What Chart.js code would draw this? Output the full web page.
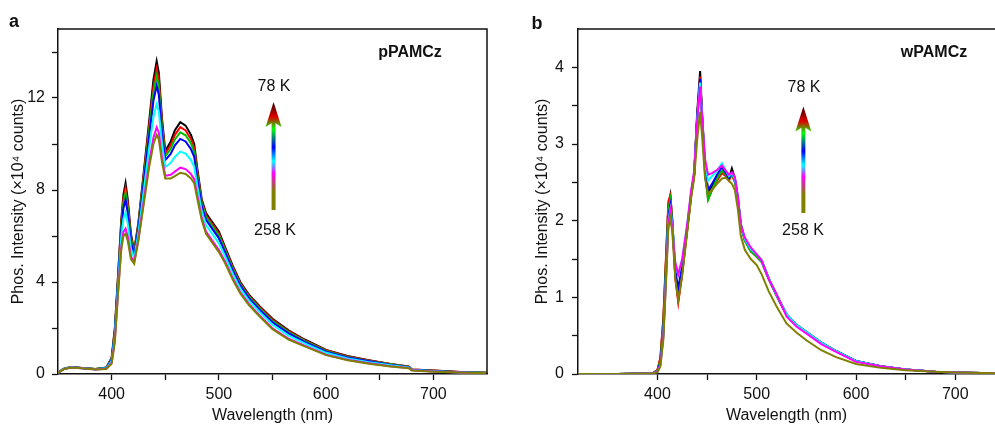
<!DOCTYPE html>
<html>
<head>
<meta charset="utf-8">
<script src="https://cdn.jsdelivr.net/npm/chart.js@4.4.1/dist/chart.umd.min.js"></script>
<style>
  body { margin: 0; background: #fff; font-family: 'Liberation Sans', Arial, sans-serif; }
  #page { position: relative; width: 995px; height: 426px; overflow: hidden; }
  .panel { position: absolute; top: 0; height: 426px; }
  .note { position: absolute; transform: translate(-50%, -50%); color: #111; font-size: 16px; white-space: nowrap; }
  .bold { font-weight: bold; }
</style>
</head>
<body>
<div id="page">
  <div class="panel" style="left:0; width:500px;"><canvas id="chartA"></canvas></div>
  <div class="panel" style="left:500px; width:495px;"><canvas id="chartB"></canvas></div>
  <div class="note bold" style="left:14px; top:21px; font-size:18px;">a</div>
  <div class="note bold" style="left:537px; top:23px; font-size:18px;">b</div>
  <div class="note bold" style="left:410px; top:52px;">pPAMCz</div>
  <div class="note bold" style="left:934px; top:52px;">wPAMCz</div>
  <div class="note" style="left:274px; top:86px;">78 K</div>
  <div class="note" style="left:275px; top:230px;">258 K</div>
  <div class="note" style="left:804px; top:87px;">78 K</div>
  <div class="note" style="left:803px; top:230px;">258 K</div>
</div>
<script>
// temperatures, top curve (78 K) first
const temps = ['78 K', '108 K', '138 K', '168 K', '198 K', '228 K', '258 K'];
const colors = ['#000000', '#ff0000', '#00c000', '#0000ff', '#00ffff', '#ff00ff', '#808000'];

// panel a: pPAMCz, wavelength (nm) and intensity (x10^4 counts)
const wlA = [350, 355, 362, 372, 385, 395, 400, 403, 406, 409, 411, 413, 415, 418, 421, 425, 430, 435, 439, 442, 444, 447, 450, 455, 459, 464, 469, 474, 477, 480, 484, 488, 494, 500, 506, 513, 520, 528, 538, 550, 565, 580, 600, 620, 640, 660, 677, 680, 700, 725, 750];
const pA_78 = [0.05, 0.22, 0.3, 0.26, 0.22, 0.28, 0.7, 2.0, 4.3, 6.7, 7.8, 8.3, 7.6, 6.1, 5.35, 6.6, 8.8, 11.0, 12.8, 13.6, 13.1, 11.1, 9.7, 10.1, 10.6, 10.95, 10.8, 10.4, 10.0, 8.9, 7.6, 7.0, 6.6, 6.2, 5.5, 4.7, 4.0, 3.45, 2.95, 2.4, 1.9, 1.5, 1.05, 0.78, 0.6, 0.44, 0.33, 0.2, 0.15, 0.09, 0.05];
const pA_108 = [0.05, 0.22, 0.3, 0.26, 0.22, 0.27, 0.68, 1.94, 4.22, 6.57, 7.62, 8.08, 7.42, 5.99, 5.3, 6.52, 8.66, 10.8, 12.52, 13.28, 12.81, 10.91, 9.58, 9.94, 10.4, 10.73, 10.59, 10.21, 9.83, 8.77, 7.51, 6.91, 6.51, 6.11, 5.43, 4.64, 3.95, 3.41, 2.91, 2.36, 1.86, 1.47, 1.03, 0.76, 0.59, 0.43, 0.32, 0.2, 0.15, 0.09, 0.05];
const pA_138 = [0.05, 0.22, 0.3, 0.26, 0.22, 0.27, 0.65, 1.88, 4.14, 6.44, 7.44, 7.86, 7.24, 5.88, 5.24, 6.44, 8.52, 10.6, 12.24, 12.96, 12.52, 10.72, 9.46, 9.78, 10.2, 10.51, 10.38, 10.02, 9.66, 8.64, 7.42, 6.82, 6.42, 6.02, 5.36, 4.58, 3.9, 3.36, 2.86, 2.31, 1.82, 1.44, 1.0, 0.74, 0.57, 0.42, 0.31, 0.19, 0.14, 0.08, 0.05];
const pA_168 = [0.05, 0.21, 0.29, 0.26, 0.21, 0.26, 0.62, 1.8, 4.04, 6.27, 7.21, 7.57, 7.01, 5.74, 5.17, 6.34, 8.34, 10.34, 11.88, 12.54, 12.14, 10.47, 9.3, 9.57, 9.94, 10.22, 10.11, 9.77, 9.44, 8.47, 7.3, 6.7, 6.3, 5.9, 5.27, 4.5, 3.84, 3.3, 2.8, 2.25, 1.77, 1.4, 0.97, 0.72, 0.55, 0.4, 0.3, 0.18, 0.13, 0.08, 0.04];
const pA_198 = [0.05, 0.21, 0.29, 0.25, 0.21, 0.25, 0.56, 1.65, 3.84, 5.95, 6.76, 7.02, 6.56, 5.46, 5.03, 6.14, 7.99, 9.84, 11.18, 11.74, 11.42, 10.0, 9.0, 9.17, 9.44, 9.67, 9.58, 9.3, 9.01, 8.15, 7.08, 6.48, 6.08, 5.68, 5.09, 4.35, 3.71, 3.19, 2.69, 2.14, 1.67, 1.33, 0.92, 0.68, 0.51, 0.38, 0.28, 0.17, 0.12, 0.07, 0.04];
const pA_228 = [0.05, 0.2, 0.28, 0.25, 0.2, 0.23, 0.48, 1.46, 3.58, 5.53, 6.18, 6.32, 5.98, 5.11, 4.86, 5.88, 7.54, 9.2, 10.28, 10.72, 10.49, 9.39, 8.62, 8.66, 8.8, 8.97, 8.91, 8.69, 8.47, 7.73, 6.79, 6.19, 5.79, 5.39, 4.87, 4.16, 3.55, 3.05, 2.55, 1.99, 1.54, 1.23, 0.84, 0.62, 0.47, 0.34, 0.26, 0.16, 0.11, 0.06, 0.03];
const pA_258 = [0.05, 0.2, 0.28, 0.25, 0.2, 0.22, 0.45, 1.4, 3.5, 5.4, 6.0, 6.1, 5.8, 5.0, 4.8, 5.8, 7.4, 9.0, 10.0, 10.4, 10.2, 9.2, 8.5, 8.5, 8.6, 8.75, 8.7, 8.5, 8.3, 7.6, 6.7, 6.1, 5.7, 5.3, 4.8, 4.1, 3.5, 3.0, 2.5, 1.95, 1.5, 1.2, 0.82, 0.6, 0.45, 0.33, 0.25, 0.15, 0.1, 0.06, 0.03];

// panel b: wPAMCz
const wlB = [320, 360, 395, 400, 403, 406, 409, 411, 413, 415, 418, 421, 425, 430, 434, 437, 440, 443, 445, 448, 451, 455, 460, 465, 469, 472, 475, 478, 481, 484, 488, 494, 500, 505, 512, 520, 530, 540, 550, 565, 580, 600, 625, 650, 680, 700, 740];
const pB_78 = [0, 0, 0.01, 0.05, 0.2, 0.7, 1.6, 2.2, 2.33, 2.0, 1.3, 0.98, 1.35, 1.9, 2.35, 2.6, 3.4, 3.95, 3.4, 2.7, 2.38, 2.45, 2.55, 2.65, 2.6, 2.55, 2.68, 2.55, 2.3, 1.95, 1.75, 1.62, 1.55, 1.48, 1.25, 1.03, 0.78, 0.64, 0.55, 0.41, 0.3, 0.17, 0.1, 0.06, 0.03, 0.02, 0.01];
const pB_108 = [0, 0, 0.01, 0.05, 0.22, 0.75, 1.65, 2.25, 2.33, 2.0, 1.25, 0.93, 1.3, 1.88, 2.33, 2.6, 3.35, 3.88, 3.35, 2.62, 2.28, 2.4, 2.52, 2.62, 2.58, 2.52, 2.6, 2.5, 2.27, 1.93, 1.74, 1.6, 1.53, 1.46, 1.24, 1.02, 0.77, 0.63, 0.54, 0.41, 0.3, 0.17, 0.1, 0.06, 0.03, 0.02, 0.01];
const pB_138 = [0, 0, 0.01, 0.04, 0.18, 0.65, 1.55, 2.15, 2.28, 1.98, 1.3, 1.0, 1.35, 1.88, 2.33, 2.6, 3.3, 3.82, 3.3, 2.6, 2.27, 2.4, 2.55, 2.65, 2.6, 2.55, 2.6, 2.52, 2.28, 1.93, 1.74, 1.6, 1.53, 1.46, 1.24, 1.02, 0.77, 0.63, 0.54, 0.41, 0.3, 0.17, 0.1, 0.06, 0.03, 0.02, 0.01];
const pB_168 = [0, 0, 0.01, 0.03, 0.15, 0.55, 1.45, 2.05, 2.2, 1.95, 1.35, 1.12, 1.42, 1.92, 2.35, 2.6, 3.35, 3.85, 3.35, 2.7, 2.4, 2.48, 2.6, 2.7, 2.62, 2.55, 2.62, 2.55, 2.3, 1.95, 1.76, 1.63, 1.56, 1.48, 1.25, 1.03, 0.78, 0.64, 0.55, 0.41, 0.3, 0.17, 0.1, 0.06, 0.03, 0.02, 0.01];
const pB_198 = [0, 0, 0.01, 0.03, 0.12, 0.5, 1.4, 2.0, 2.15, 1.95, 1.45, 1.29, 1.5, 1.95, 2.38, 2.62, 3.3, 3.8, 3.35, 2.75, 2.52, 2.58, 2.65, 2.75, 2.65, 2.58, 2.62, 2.55, 2.3, 1.95, 1.76, 1.63, 1.56, 1.48, 1.25, 1.03, 0.78, 0.64, 0.55, 0.41, 0.3, 0.17, 0.1, 0.06, 0.03, 0.02, 0.01];
const pB_228 = [0, 0, 0.01, 0.03, 0.12, 0.5, 1.35, 1.95, 2.13, 1.9, 1.45, 1.3, 1.5, 1.95, 2.4, 2.65, 3.3, 3.75, 3.35, 2.8, 2.6, 2.62, 2.66, 2.72, 2.65, 2.6, 2.63, 2.57, 2.32, 1.95, 1.78, 1.65, 1.56, 1.48, 1.24, 1.04, 0.75, 0.62, 0.53, 0.39, 0.29, 0.16, 0.1, 0.06, 0.03, 0.02, 0.01];
const pB_258 = [0, 0, 0.01, 0.02, 0.1, 0.45, 1.3, 1.9, 2.03, 1.85, 1.25, 0.97, 1.3, 1.85, 2.3, 2.55, 3.05, 3.42, 3.1, 2.55, 2.35, 2.4, 2.48, 2.55, 2.56, 2.52, 2.48, 2.4, 2.15, 1.8, 1.62, 1.5, 1.42, 1.3, 1.08, 0.88, 0.66, 0.54, 0.44, 0.31, 0.22, 0.13, 0.08, 0.05, 0.03, 0.02, 0.01];

// tick positions and which of them carry a label
const xTicks = [400, 450, 500, 550, 600, 650, 700];
const xLabels = [400, 500, 600, 700];
const yTicksA = [0, 2, 4, 6, 8, 10, 12, 14];
const yLabelsA = [0, 4, 8, 12];
const yTicksB = [0, 0.5, 1, 1.5, 2, 2.5, 3, 3.5, 4];
const yLabelsB = [0, 1, 2, 3, 4];

const font = { family: "'Liberation Sans', Arial, sans-serif", size: 16 };
const ink = '#111';

function make_datasets(wl, series) {
  return series.map((vals, i) => ({
    label: temps[i],
    data: vals.map((v, j) => ({ x: wl[j], y: v })),
    borderColor: colors[i],
    borderWidth: 2,
    pointRadius: 0,
    tension: 0,
    fill: false,
    order: series.length - i   // warmer curves drawn over the colder ones
  }));
}

// top (and right) edge of the plot box
function frame_plugin(full_box) {
  return {
    id: 'frame',
    afterDraw(chart) {
      const a = chart.chartArea;
      const ctx = chart.ctx;
      ctx.save();
      ctx.strokeStyle = ink;
      ctx.lineWidth = 1.5;
      ctx.beginPath();
      ctx.moveTo(a.left, a.top);
      ctx.lineTo(a.right, a.top);
      if (full_box) ctx.lineTo(a.right, a.bottom);
      ctx.stroke();
      ctx.restore();
    }
  };
}

// rainbow arrow from 258 K up to 78 K
function arrow_plugin(x_nm, y_from, y_to) {
  return {
    id: 'temp_arrow',
    afterDatasetsDraw(chart) {
      const x = chart.scales.x.getPixelForValue(x_nm);
      const y0 = chart.scales.y.getPixelForValue(y_from);
      const y1 = chart.scales.y.getPixelForValue(y_to);
      const ctx = chart.ctx;
      const g = ctx.createLinearGradient(0, y0, 0, y1);
      g.addColorStop(0, '#808000');
      g.addColorStop(0.17, '#808000');
      g.addColorStop(0.34, '#ff00ff');
      g.addColorStop(0.45, '#00ffff');
      g.addColorStop(0.58, '#0000ff');
      g.addColorStop(0.75, '#00ff00');
      g.addColorStop(0.86, '#e00000');
      g.addColorStop(1, '#300000');
      ctx.save();
      ctx.fillStyle = g;
      ctx.fillRect(x - 2, y1 + 20, 4, y0 - y1 - 20);
      ctx.beginPath();
      ctx.moveTo(x, y1);
      ctx.lineTo(x + 8, y1 + 25);
      ctx.lineTo(x, y1 + 20);
      ctx.lineTo(x - 8, y1 + 25);
      ctx.closePath();
      ctx.fill();
      ctx.restore();
    }
  };
}

function make_chart(id, cfg) {
  const scales = {
    x: {
      type: 'linear',
      min: cfg.xmin,
      max: cfg.xmax,
      afterBuildTicks: s => { s.ticks = xTicks.map(v => ({ value: v })); },
      afterFit: s => { s.height = 52; s.paddingLeft = 0; s.paddingRight = 0; },
      ticks: {
        autoSkip: false, maxRotation: 0, padding: 5, color: ink, font: font,
        callback: v => (xLabels.includes(v) ? String(v) : '')
      },
      grid: { drawOnChartArea: false, tickLength: 6, tickColor: ink, tickWidth: 1.3 },
      border: { color: ink, width: 1.5 },
      title: { display: true, text: 'Wavelength (nm)', color: ink, font: font, padding: { top: 0, bottom: 1 } }
    },
    y: {
      type: 'linear',
      min: 0,
      max: cfg.ymax,
      afterBuildTicks: s => { s.ticks = cfg.yTicks.map(v => ({ value: v })); },
      afterFit: s => { s.width = cfg.yWidth; s.paddingTop = 0; s.paddingBottom = 0; },
      ticks: {
        autoSkip: false, padding: cfg.yPad, color: ink, font: font,
        callback: v => (cfg.yLabels.includes(v) ? String(v) : '')
      },
      grid: { drawOnChartArea: false, tickLength: 6, tickColor: ink, tickWidth: 1.3 },
      border: { color: ink, width: 1.5 },
      title: { display: true, text: 'Phos. Intensity (×10⁴ counts)', color: ink, font: font, padding: { top: 9, bottom: 0 } }
    }
  };

  return new Chart(document.getElementById(id), {
    type: 'line',
    data: { datasets: make_datasets(cfg.wl, cfg.series) },
    options: {
      responsive: true,
      maintainAspectRatio: false,
      animation: false,
      devicePixelRatio: 1,
      layout: { padding: cfg.pad },
      plugins: { legend: { display: false }, tooltip: { enabled: false } },
      scales: scales
    },
    plugins: [frame_plugin(cfg.box), arrow_plugin(cfg.arrow[0], cfg.arrow[1], cfg.arrow[2])]
  });
}

make_chart('chartA', {
  wl: wlA,
  series: [pA_78, pA_108, pA_138, pA_168, pA_198, pA_228, pA_258],
  xmin: 350, xmax: 750, ymax: 15,
  yTicks: yTicksA, yLabels: yLabelsA,
  yWidth: 58, yPad: 7,
  pad: { left: 0, top: 29, right: 13, bottom: 0 },
  box: true,
  arrow: [551, 7.13, 11.83]
});

make_chart('chartB', {
  wl: wlB,
  series: [pB_78, pB_108, pB_138, pB_168, pB_198, pB_228, pB_258],
  xmin: 320, xmax: 740, ymax: 4.5,
  yTicks: yTicksB, yLabels: yLabelsB,
  yWidth: 54, yPad: 8,
  pad: { left: 24, top: 29, right: 0, bottom: 0 },
  box: false,
  arrow: [547, 2.1, 3.49]
});
</script>
</body>
</html>
